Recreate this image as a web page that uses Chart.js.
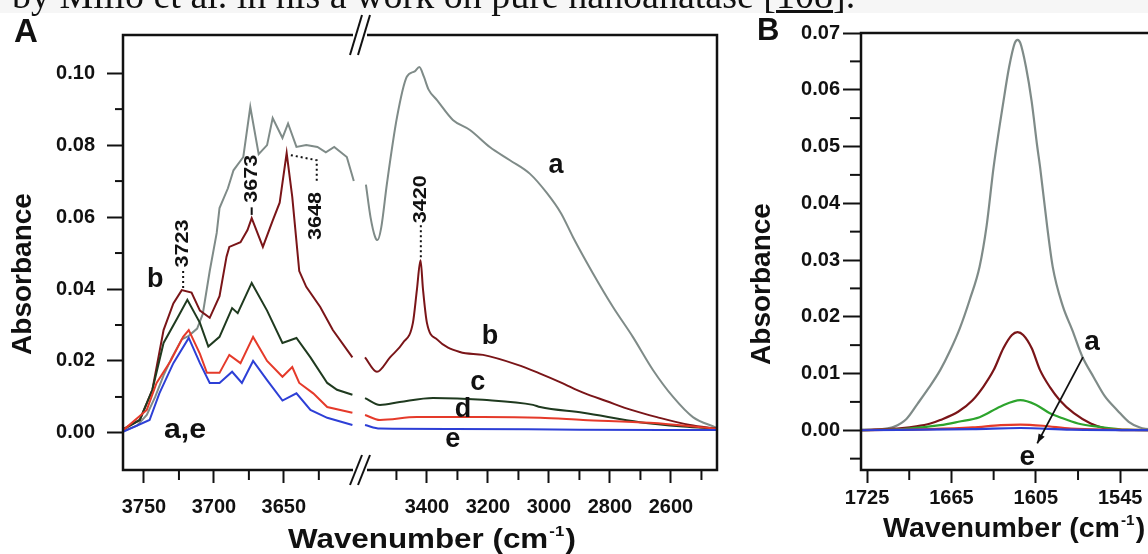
<!DOCTYPE html>
<html>
<head>
<meta charset="utf-8">
<script src="https://cdn.jsdelivr.net/npm/chart.js@4.4.1/dist/chart.umd.min.js"></script>
<style>
  html, body { margin: 0; padding: 0; background: #fff; overflow: hidden; width: 1148px; height: 554px; }
  #strip { position: absolute; left: 0; top: 0; width: 1148px; height: 13px; background: #f6f6f6; }
  #caption { position: absolute; left: 12px; top: -24px; font: 38px "Liberation Serif", "Times New Roman", serif; line-height: 38px; white-space: nowrap; color: #111; }
  #boxA { position: absolute; left: 0; top: 0; width: 740px; height: 554px; }
  #boxB { position: absolute; left: 740px; top: 0; width: 460px; height: 554px; }
</style>
</head>
<body>
<div id="strip"></div>
<div id="boxA"><canvas id="chartA"></canvas></div>
<div id="boxB"><canvas id="chartB"></canvas></div>
<div id="caption">by Millo et al. in his a work on pure nanoanatase [<u>108</u>].</div>
<script>
const FONT = '"Liberation Sans", Arial, sans-serif';

// panel A, left of the axis break (wavenumber, absorbance)
const aLeft = [[3765,0.0005],[3755,0.002],[3748,0.005],[3742,0.010],[3736,0.016],[3730,0.021],[3723,0.026],[3718,0.027],[3712,0.029],[3708,0.033],[3703,0.045],[3698,0.0556],[3696,0.0625],[3690,0.068],[3686,0.073],[3679,0.0767],[3674,0.0906],[3668,0.0775],[3662,0.080],[3658,0.0875],[3651,0.082],[3647,0.086],[3641,0.0795],[3634,0.080],[3626,0.0795],[3620,0.078],[3614,0.0795],[3605,0.0767],[3600,0.070]];
const bLeft = [[3765,0.001],[3753,0.0036],[3744,0.012],[3736,0.0286],[3729,0.036],[3723,0.0397],[3716,0.039],[3710,0.034],[3703,0.032],[3696,0.038],[3691,0.049],[3689,0.0517],[3681,0.053],[3676,0.0564],[3673,0.0597],[3665,0.0517],[3658,0.059],[3653,0.064],[3648,0.0778],[3644,0.0656],[3639,0.045],[3634,0.0406],[3624,0.035],[3615,0.0286],[3601,0.021]];
const cLeft = [[3765,0.001],[3753,0.0036],[3744,0.012],[3736,0.025],[3726,0.032],[3719,0.037],[3710,0.0306],[3704,0.024],[3696,0.0267],[3687,0.0347],[3683,0.0333],[3673,0.0417],[3662,0.034],[3651,0.025],[3641,0.0264],[3631,0.021],[3619,0.0139],[3612,0.012],[3601,0.0106]];
const dLeft = [[3765,0.0007],[3748,0.0064],[3741,0.0139],[3731,0.020],[3722,0.0267],[3718,0.0286],[3710,0.022],[3705,0.0167],[3696,0.0167],[3689,0.0217],[3681,0.0194],[3672,0.0267],[3662,0.020],[3651,0.0156],[3644,0.0183],[3639,0.0139],[3629,0.011],[3619,0.0072],[3601,0.0056]];
const eLeft = [[3765,0.0003],[3746,0.0036],[3739,0.011],[3729,0.0194],[3718,0.0264],[3710,0.0194],[3703,0.0139],[3696,0.0139],[3687,0.017],[3680,0.0139],[3672,0.020],[3662,0.0147],[3651,0.009],[3641,0.011],[3631,0.0064],[3619,0.0042],[3601,0.0022]];

// panel A, right of the axis break
const aRight = [[3600,0.069],[3585,0.060],[3570,0.0545],[3562,0.0536],[3550,0.057],[3531,0.0694],[3498,0.0878],[3466,0.099],[3440,0.1005],[3425,0.1017],[3410,0.099],[3395,0.0955],[3367,0.0925],[3315,0.087],[3259,0.0842],[3193,0.0794],[3128,0.0758],[3062,0.072],[3007,0.0667],[2960,0.061],[2921,0.0544],[2856,0.0444],[2790,0.035],[2725,0.0267],[2659,0.0175],[2593,0.010],[2528,0.0044],[2452,0.0015]];
const bRight = [[3603,0.021],[3564,0.017],[3521,0.021],[3479,0.025],[3446,0.0306],[3433,0.0397],[3421,0.048],[3413,0.040],[3400,0.0306],[3367,0.026],[3292,0.0225],[3216,0.0217],[3105,0.019],[3029,0.0165],[2960,0.014],[2888,0.0112],[2810,0.0088],[2730,0.0064],[2646,0.0044],[2538,0.0022],[2452,0.0012]];
const cRight = [[3603,0.0097],[3554,0.0078],[3489,0.0086],[3380,0.0097],[3216,0.0092],[3052,0.0078],[3029,0.0072],[2888,0.0056],[2702,0.003],[2560,0.0018],[2452,0.0012]];
const dRight = [[3603,0.005],[3554,0.0036],[3433,0.0044],[3216,0.0044],[3029,0.0042],[2888,0.0036],[2669,0.0028],[2452,0.0012]];
const eRight = [[3603,0.0022],[3554,0.0012],[3314,0.0011],[2900,0.0009],[2452,0.0008]];

// panel B, H2O bending region
const aBend = [[1729,0.0001],[1715,0.0002],[1706,0.0006],[1697,0.002],[1689,0.0047],[1681,0.0075],[1673,0.0106],[1666,0.014],[1659,0.018],[1652,0.023],[1645,0.0288],[1640,0.036],[1635,0.0464],[1628,0.058],[1624,0.064],[1620,0.0682],[1618,0.0688],[1616,0.0682],[1612,0.064],[1608,0.058],[1604,0.050],[1602,0.0464],[1597,0.036],[1593,0.0288],[1586,0.022],[1579,0.0176],[1572,0.013],[1564,0.0094],[1556,0.006],[1547,0.0035],[1539,0.0015],[1531,0.0005],[1520,0.0001],[1508,0]];
const bBend = [[1729,0],[1700,0.0004],[1690,0.0007],[1680,0.0012],[1673,0.0018],[1660,0.0033],[1650,0.0053],[1642,0.0078],[1635,0.0106],[1628,0.0145],[1622,0.0168],[1618,0.0173],[1614,0.0168],[1608,0.0145],[1602,0.0106],[1595,0.0076],[1588,0.0053],[1578,0.003],[1566,0.0012],[1555,0.0003],[1540,0],[1508,0]];
const cBend = [[1729,0],[1700,0.0002],[1673,0.0009],[1660,0.0015],[1645,0.0023],[1630,0.0042],[1616,0.0053],[1605,0.0045],[1595,0.003],[1588,0.0023],[1575,0.0012],[1560,0.0006],[1540,0.0001],[1508,0]];
const dBend = [[1729,0],[1680,0.0002],[1650,0.0005],[1630,0.0009],[1616,0.001],[1600,0.0008],[1580,0.0003],[1550,0.0001],[1508,0]];
const eBend = [[1729,0],[1650,0.0002],[1616,0.0004],[1580,0.0001],[1508,0]];

const seriesNames = ['a', 'b', 'c', 'd', 'e'];

// ticks
const yTicksA = [0, 0.02, 0.04, 0.06, 0.08, 0.10];
const yMinorA = [0.01, 0.03, 0.05, 0.07, 0.09];
const xTicksLeft = [3750, 3700, 3650];
const xMinorLeft = [3725, 3675, 3625];
const xTicksRight = [3400, 3200, 3000, 2800, 2600];
const xMinorRight = [3500, 3300, 3100, 2900, 2700, 2500];
const yTicksB = [0, 0.01, 0.02, 0.03, 0.04, 0.05, 0.06, 0.07];
const yMinorB = [-0.005, 0.005, 0.015, 0.025, 0.035, 0.045, 0.055, 0.065];
const xTicksB = [1725, 1665, 1605, 1545];
const xMinorB = [1695, 1635, 1575, 1515];

const colorsA = ['#7f8b88', '#7a1518', '#1f3a1f', '#e53a2a', '#2d3fd6'];
const colorsB = ['#7f8b88', '#7a1518', '#2da42d', '#e53a2a', '#2d3fd6'];
const INK = '#111';

const toPoints = arr => arr.map(([x, y]) => ({x, y}));

function tickFont() {
    return {family: FONT, size: 20, weight: 'bold'};
}

function xAxis(min, max, ticks, opts) {
    return {
        type: 'linear', position: 'bottom', reverse: true, min: min, max: max,
        stack: opts.stack, stackWeight: opts.weight || 1,
        afterBuildTicks: s => { s.ticks = ticks.map(v => ({value: v})); },
        afterFit: s => { s.height = 84; },
        grid: {drawOnChartArea: false, drawTicks: true, tickLength: 13, tickWidth: 2, tickColor: INK},
        border: {display: false},
        ticks: {padding: opts.pad, color: INK, font: tickFont(), maxRotation: 0, autoSkip: false, callback: v => String(v)}
    };
}

function yAxis(min, max, ticks, width, tickLen, pad) {
    return {
        type: 'linear', position: 'left', min: min, max: max,
        afterBuildTicks: s => { s.ticks = ticks.map(v => ({value: v})); },
        afterFit: s => { s.width = width; },
        grid: {drawOnChartArea: false, drawTicks: true, tickLength: tickLen, tickWidth: 2, tickColor: INK},
        border: {display: false},
        ticks: {padding: pad, color: INK, font: tickFont(), autoSkip: false, callback: v => v.toFixed(2)}
    };
}

function line(ctx, pts, width, dash) {
    ctx.save();
    ctx.strokeStyle = INK;
    ctx.lineWidth = width;
    ctx.setLineDash(dash || []);
    ctx.beginPath();
    pts.forEach((p, i) => i ? ctx.lineTo(p[0], p[1]) : ctx.moveTo(p[0], p[1]));
    ctx.stroke();
    ctx.restore();
}

function text(ctx, str, x, y, size, opts) {
    opts = opts || {};
    ctx.save();
    ctx.translate(x, y);
    if (opts.rotate) ctx.rotate(-Math.PI / 2);
    ctx.scale(opts.stretch || 1, 1);
    ctx.fillStyle = INK;
    ctx.font = 'bold ' + size + 'px ' + FONT;
    ctx.textAlign = opts.align || 'center';
    ctx.textBaseline = opts.baseline || 'middle';
    ctx.fillText(str, 0, 0);
    ctx.restore();
}

function waveTitle(ctx, x, y, size, stretch) {
    ctx.save();
    ctx.translate(x, y);
    ctx.scale(stretch, 1);
    ctx.fillStyle = INK;
    ctx.textAlign = 'left';
    ctx.textBaseline = 'alphabetic';
    ctx.font = 'bold ' + size + 'px ' + FONT;
    const main = 'Wavenumber (cm';
    ctx.fillText(main, 0, 0);
    let cx = ctx.measureText(main).width + 1;
    ctx.font = 'bold ' + Math.round(size * 0.55) + 'px ' + FONT;
    ctx.fillText('-1', cx, -Math.round(size * 0.42));
    cx += ctx.measureText('-1').width + 1;
    ctx.font = 'bold ' + size + 'px ' + FONT;
    ctx.fillText(')', cx, 0);
    ctx.restore();
}

function minorTicks(ctx, scale, values, len) {
    values.forEach(v => {
        const p = scale.getPixelForValue(v);
        if (scale.isHorizontal()) {
            if (p < scale.left - 1 || p > scale.right + 1) return;
            line(ctx, [[p, scale.top], [p, scale.top + len]], 2);
        } else {
            line(ctx, [[scale.right - len, p], [scale.right, p]], 2);
        }
    });
}

const framePluginA = {
    id: 'frameA',
    afterDraw(chart) {
        const {ctx, chartArea: ca, scales} = chart;
        minorTicks(ctx, scales.y, yMinorA, 8);
        minorTicks(ctx, scales.xL, xMinorLeft, 10);
        minorTicks(ctx, scales.xR, xMinorRight, 10);

        const bx = scales.xL.right + 2;
        const gap = 7;
        line(ctx, [[bx - gap, ca.top], [ca.left, ca.top], [ca.left, ca.bottom], [bx - gap, ca.bottom]], 2.5);
        line(ctx, [[bx + gap, ca.top], [ca.right, ca.top], [ca.right, ca.bottom], [bx + gap, ca.bottom]], 2.5);
        [[ca.top, 20], [ca.bottom, 15]].forEach(([yy, h]) => {
            [bx - 4, bx + 4].forEach(cx => line(ctx, [[cx - 6, yy + h], [cx + 6, yy - h]], 2));
        });

        text(ctx, 'A', 14, 42, 33, {align: 'left', baseline: 'alphabetic'});
        text(ctx, 'Absorbance', 23, 274, 28, {rotate: true});
        waveTitle(ctx, ca.left + 165, 548, 28, 1.12);
    }
};

const notesPluginA = {
    id: 'notesA',
    afterDatasetsDraw(chart) {
        const {ctx, scales: {xL, xR, y}} = chart;
        const L = (w, a) => [xL.getPixelForValue(w), y.getPixelForValue(a)];
        const R = (w, a) => [xR.getPixelForValue(w), y.getPixelForValue(a)];
        const dots = [2, 3];

        // peak markers
        line(ctx, [L(3722, 0.0403), L(3722, 0.0455)], 2, dots);
        let p = L(3722, 0.0460);
        text(ctx, '3723', p[0], p[1], 18, {rotate: true, align: 'left', stretch: 1.2});

        line(ctx, [L(3673, 0.0606), L(3673, 0.0627)], 2);
        p = L(3673, 0.0640);
        text(ctx, '3673', p[0], p[1], 18, {rotate: true, align: 'left', stretch: 1.2});

        line(ctx, [L(3645, 0.0772), L(3626.5, 0.0758), L(3626.5, 0.0695)], 2, dots);
        p = L(3627, 0.0536);
        text(ctx, '3648', p[0], p[1], 18, {rotate: true, align: 'left', stretch: 1.2});

        line(ctx, [R(3420, 0.0488), R(3420, 0.0578)], 2, dots);
        p = R(3420, 0.0583);
        text(ctx, '3420', p[0], p[1], 18, {rotate: true, align: 'left', stretch: 1.2});

        // curve letters
        p = L(3742, 0.0425); text(ctx, 'b', p[0], p[1], 27);
        p = L(3720.7, 0.0008); text(ctx, 'a,e', p[0], p[1], 27, {stretch: 1.12});
        p = R(2977, 0.0744); text(ctx, 'a', p[0], p[1], 27);
        p = R(3193, 0.0267); text(ctx, 'b', p[0], p[1], 27);
        p = R(3233, 0.0139); text(ctx, 'c', p[0], p[1], 27);
        p = R(3282, 0.0064); text(ctx, 'd', p[0], p[1], 27);
        p = R(3315, -0.0019); text(ctx, 'e', p[0], p[1], 27);
    }
};

const framePluginB = {
    id: 'frameB',
    afterDraw(chart) {
        const {ctx, chartArea: ca, scales} = chart;
        minorTicks(ctx, scales.y, yMinorB, 11);
        minorTicks(ctx, scales.x, xMinorB, 10);
        line(ctx, [[ca.right, ca.top], [ca.left, ca.top], [ca.left, ca.bottom], [ca.right, ca.bottom], [ca.right, ca.top]], 2.5);

        text(ctx, 'B', 17, 40, 31, {align: 'left', baseline: 'alphabetic'});
        text(ctx, 'Absorbance', 22, 284, 28, {rotate: true});
        waveTitle(ctx, ca.left + 22, 537, 28, 1.02);

        const {x, y} = scales;
        const P = (w, a) => [x.getPixelForValue(w), y.getPixelForValue(a)];
        let p = P(1565, 0.0155); text(ctx, 'a', p[0], p[1], 28);
        p = P(1611, -0.0048); text(ctx, 'e', p[0], p[1], 28);
        const s = P(1571.5, 0.0129), t = P(1604, -0.0023);
        line(ctx, [s, t], 1.8);
        const ang = Math.atan2(t[1] - s[1], t[0] - s[0]);
        ctx.save();
        ctx.fillStyle = INK;
        ctx.beginPath();
        ctx.moveTo(t[0], t[1]);
        ctx.lineTo(t[0] - 10 * Math.cos(ang - 0.35), t[1] - 10 * Math.sin(ang - 0.35));
        ctx.lineTo(t[0] - 10 * Math.cos(ang + 0.35), t[1] - 10 * Math.sin(ang + 0.35));
        ctx.closePath();
        ctx.fill();
        ctx.restore();
    }
};

const leftSets = [aLeft, bLeft, cLeft, dLeft, eLeft];
const rightSets = [aRight, bRight, cRight, dRight, eRight];
const bendSets = [aBend, bBend, cBend, dBend, eBend];

const datasetsA = [];
const datasetsB = [];
// e first so it is painted on top, a last
for (let i = seriesNames.length - 1; i >= 0; i--) {
    datasetsA.push({
        label: seriesNames[i], data: toPoints(leftSets[i]), xAxisID: 'xL', yAxisID: 'y',
        borderColor: colorsA[i], borderWidth: 2, pointRadius: 0, tension: 0, fill: false
    });
    datasetsA.push({
        label: seriesNames[i], data: toPoints(rightSets[i]), xAxisID: 'xR', yAxisID: 'y',
        borderColor: colorsA[i], borderWidth: 2, pointRadius: 0, cubicInterpolationMode: 'monotone', fill: false
    });
    datasetsB.push({
        label: seriesNames[i], data: toPoints(bendSets[i]), xAxisID: 'x', yAxisID: 'y',
        borderColor: colorsB[i], borderWidth: 2.2, pointRadius: 0, cubicInterpolationMode: 'monotone', fill: false
    });
}

const common = {
    responsive: true,
    maintainAspectRatio: false,
    animation: false,
    events: [],
    plugins: {legend: {display: false}, tooltip: {enabled: false}}
};

new Chart(document.getElementById('chartA'), {
    type: 'line',
    data: {datasets: datasetsA},
    options: Object.assign({}, common, {
        layout: {padding: {left: 0, right: 23, top: 35, bottom: 0}},
        scales: {
            xL: xAxis(3597, 3765, xTicksLeft, {stack: 'wn', weight: 235, pad: 12}),
            xR: xAxis(2449, 3626, xTicksRight, {stack: 'wn', weight: 359, pad: 12}),
            y: yAxis(-0.0103, 0.1106, yTicksA, 123, 16, 12)
        }
    }),
    plugins: [framePluginA, notesPluginA]
});

new Chart(document.getElementById('chartB'), {
    type: 'line',
    data: {datasets: datasetsB},
    options: Object.assign({}, common, {
        layout: {padding: {left: 0, right: 28, top: 33, bottom: 0}},
        scales: {
            x: xAxis(1508.2, 1729.3, xTicksB, {pad: 3}),
            y: yAxis(-0.007, 0.070, yTicksB, 121, 18, 3)
        }
    }),
    plugins: [framePluginB]
});
</script>
</body>
</html>
